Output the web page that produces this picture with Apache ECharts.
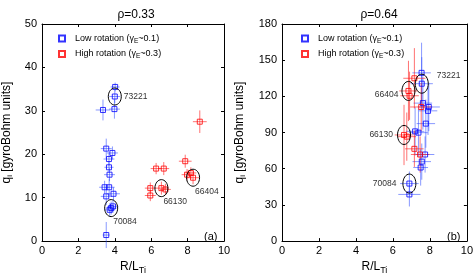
<!DOCTYPE html>
<html>
<head>
<meta charset="utf-8">
<script src="https://cdn.jsdelivr.net/npm/echarts@6/dist/echarts.min.js"></script>
<style>html,body{margin:0;padding:0;background:#fff}#c{width:476px;height:280px}</style>
</head>
<body>
<div id="c"></div>
<script>
// ---------- data ----------
var titles = ['ρ=0.33', 'ρ=0.64'];
var panelTags = ['(a)', '(b)'];
var xTicks = [0, 2, 4, 6, 8, 10];
var yTicksA = [0, 10, 20, 30, 40, 50];
var yTicksB = [0, 30, 60, 90, 120, 150, 180];
var seriesNames = ['Low rotation (γE~0.1)', 'High rotation (γE~0.3)'];

// panel (a) rho=0.33, low rotation: x, y, x-error, y-error
var lowA_x  = [4.02, 4.00, 3.35, 3.98, 3.53, 3.87, 3.68, 3.68, 3.71, 3.44, 3.69, 3.53, 3.93, 3.80, 3.90, 3.72, 3.53];
var lowA_y  = [35.5, 33.3, 30.2, 30.4, 21.3, 20.3, 18.9, 17.0, 15.3, 12.4, 12.4, 10.3, 10.9, 7.6, 8.0, 7.2, 1.4];
var lowA_dx = [0.25, 0.30, 0.40, 0.30, 0.30, 0.30, 0.30, 0.25, 0.30, 0.30, 0.30, 0.30, 0.35, 0.30, 0.30, 0.30, 0.20];
var lowA_dy = [1.0, 1.5, 2.4, 2.2, 2.3, 1.5, 1.5, 1.3, 1.5, 1.5, 2.0, 2.0, 1.5, 1.5, 1.5, 1.5, 3.0];

// panel (a) high rotation
var highA_x  = [8.67, 7.87, 6.27, 6.69, 5.95, 6.56, 6.78, 5.95, 7.97, 8.18, 8.30];
var highA_y  = [27.5, 18.4, 16.7, 16.7, 12.2, 12.2, 11.9, 10.5, 15.3, 15.7, 14.6];
var highA_dx = [0.38, 0.35, 0.30, 0.30, 0.30, 0.35, 0.30, 0.30, 0.30, 0.30, 0.35];
var highA_dy = [2.6, 1.5, 1.3, 1.5, 1.3, 1.5, 1.3, 1.3, 1.3, 1.3, 1.5];

// panel (b) rho=0.64, low rotation
var lowB_x  = [7.55, 7.56, 7.62, 7.94, 7.90, 7.78, 7.20, 7.38, 7.74, 7.56, 7.50, 6.89, 6.89];
var lowB_y  = [139.5, 130.5, 114.4, 111.2, 108.0, 97.4, 91.0, 89.9, 71.8, 65.9, 61.0, 47.7, 38.7];
var lowB_dx = [0.50, 0.60, 0.50, 0.60, 0.50, 0.50, 0.50, 0.50, 0.50, 0.50, 0.40, 0.50, 0.60];
var lowB_dy = [25, 22, 22, 20, 20, 20, 20, 20, 15, 15, 15, 10, 10];

// panel (b) high rotation
var highB_x  = [7.16, 6.84, 6.90, 7.53, 6.60, 6.75, 7.16, 7.47];
var highB_y  = [135.0, 124.5, 120.5, 111.2, 88.0, 86.6, 76.5, 71.8];
var highB_dx = [0.60, 0.50, 0.50, 0.60, 0.50, 0.50, 0.50, 0.50];
var highB_dy = [25, 25, 20, 20, 25, 20, 15, 15];

// circled shots: label, x, y
var shotsA_name = ['73221', '70084', '66130', '66404'];
var shotsA_x = [4.00, 3.80, 6.56, 8.30];
var shotsA_y = [33.3, 7.6, 12.2, 14.6];
var shotsB_name = ['73221', '66404', '66130', '70084'];
var shotsB_x = [7.56, 6.84, 6.60, 6.89];
var shotsB_y = [130.5, 124.5, 88.0, 47.7];

// ---------- helpers ----------
var BLUE = '#0000ff', RED = '#ff0000';
var BLUE_ERR = 'rgba(40,70,255,0.55)', RED_ERR = 'rgba(255,20,20,0.6)';

function zip4(a, b, c, d) { return a.map(function (v, i) { return [v, b[i], c[i], d[i]]; }); }
function zip2(a, b) { return a.map(function (v, i) { return [v, b[i]]; }); }

function errSeries(idx, data, color) {
  return {
    type: 'custom', xAxisIndex: idx * 2, yAxisIndex: idx * 2, data: data, silent: true, z: 2,
    renderItem: function (params, api) {
      var x = api.value(0), y = api.value(1), dx = api.value(2), dy = api.value(3);
      var l = api.coord([x - dx, y]), r = api.coord([x + dx, y]);
      var t = api.coord([x, y + dy]), b = api.coord([x, y - dy]);
      return { type: 'group', children: [
        { type: 'line', shape: { x1: l[0], y1: l[1], x2: r[0], y2: r[1] }, style: { stroke: color, lineWidth: 1 } },
        { type: 'line', shape: { x1: t[0], y1: t[1], x2: b[0], y2: b[1] }, style: { stroke: color, lineWidth: 1 } }
      ]};
    }
  };
}
function ptSeries(idx, name, data, color) {
  return {
    type: 'scatter', name: name, xAxisIndex: idx * 2, yAxisIndex: idx * 2, data: data, z: 3,
    symbol: 'rect', symbolSize: 5,
    itemStyle: { color: 'rgba(255,255,255,0)', borderColor: color, borderWidth: 1 }
  };
}
// label placement style per shot (offsets in px)
var offA = [[9, 0, 'left'], [2, 14, 'left'], [2, 14, 'left'], [2, 14, 'left']];
var offB = [[15, -8, 'left'], [-10, 4, 'right'], [-11, 0, 'right'], [-13, 0, 'right']];
function shotSeries(idx, names, xs, ys, offs, rx, ry) {
  var data = xs.map(function (v, i) { return [v, ys[i], i]; });
  return {
    type: 'custom', xAxisIndex: idx * 2, yAxisIndex: idx * 2, data: data, silent: true, z: 4,
    renderItem: function (params, api) {
      var i = api.value(2);
      var p = api.coord([api.value(0), api.value(1)]);
      var o = offs[i];
      return { type: 'group', children: [
        { type: 'ellipse', shape: { cx: p[0], cy: p[1], rx: rx, ry: ry }, style: { fill: null, stroke: '#000', lineWidth: 1 } },
        { type: 'text', x: p[0] + o[0], y: p[1] + o[1], style: { text: names[i], fill: '#333', font: '8.5px "Liberation Sans", Arial, sans-serif', align: o[2], verticalAlign: 'middle' } }
      ]};
    }
  };
}

var FONT = '"Liberation Sans", Arial, sans-serif';
var grids = [
  { left: 39, top: 24, width: 185, height: 225 },
  { left: 282, top: 24, width: 185, height: 225 }
];
var yT = [yTicksA, yTicksB];

var xAxes = [], yAxes = [];
[0, 1].forEach(function (g) {
  var common = { gridIndex: g, min: xTicks[0], max: xTicks[xTicks.length - 1], interval: xTicks[1] - xTicks[0],
    axisLine: { onZero: false, lineStyle: { color: '#000', width: 1 } },
    axisTick: { inside: true, length: 3, lineStyle: { color: '#000' } }, splitLine: { show: false } };
  xAxes.push(Object.assign({}, common, { position: 'bottom',
    axisLabel: { color: '#000', fontSize: 11, fontFamily: FONT, margin: 4 },
    name: '{n|R/L}{s|Ti}', nameLocation: 'middle', nameGap: 15,
    nameTextStyle: { color: '#000', fontFamily: FONT, rich: { n: { fontSize: 12, fontFamily: FONT, color: '#000' }, s: { fontSize: 9, fontFamily: FONT, color: '#000', padding: [7, 0, 0, 0] } } } }));
  xAxes.push(Object.assign({}, common, { position: 'top', axisLabel: { show: false } }));
  var yt = yT[g];
  var ycommon = { gridIndex: g, min: yt[0], max: yt[yt.length - 1], interval: yt[1] - yt[0],
    axisLine: { show: true, onZero: false, lineStyle: { color: '#000', width: 1 } },
    axisTick: { show: true, inside: true, length: 3, lineStyle: { color: '#000' } }, splitLine: { show: false } };
  yAxes.push(Object.assign({}, ycommon, { position: 'left',
    axisLabel: { color: '#000', fontSize: 11, fontFamily: FONT, margin: 5 },
    name: '{n|q}{s|i}{n| [gyroBohm units]}', nameLocation: 'middle', nameGap: g === 0 ? 28 : 35, nameRotate: 90,
    nameTextStyle: { color: '#000', fontFamily: FONT, rich: { n: { fontSize: 12, fontFamily: FONT, color: '#000' }, s: { fontSize: 8, fontFamily: FONT, color: '#000', padding: [6, 0, 0, 0] } } } }));
  yAxes.push(Object.assign({}, ycommon, { position: 'right', axisLabel: { show: false } }));
});

var legendRich = { n: { fontSize: 9, fontFamily: FONT, color: '#000' }, s: { fontSize: 6.5, fontFamily: FONT, color: '#000', padding: [5, 0, 0, 0] } };
function legendFmt(name) {
  var parts = name.split('γE');
  return '{n|' + parts[0] + 'γ}{s|E}{n|' + parts[1] + '}';
}
function legend(left) {
  return { left: left, top: 29, orient: 'vertical', itemWidth: 6, itemHeight: 6, itemGap: 5,
    data: seriesNames, formatter: legendFmt, textStyle: { rich: legendRich, padding: [0, 0, 0, 5] },
    selectedMode: false };
}

var option = {
  animation: false,
  backgroundColor: '#fff',
  title: [
    { text: titles[0], left: 131, top: 4, textAlign: 'center', textStyle: { fontSize: 12, fontWeight: 'normal', fontFamily: FONT, color: '#000' } },
    { text: titles[1], left: 374, top: 4, textAlign: 'center', textStyle: { fontSize: 12, fontWeight: 'normal', fontFamily: FONT, color: '#000' } }
  ],
  legend: [legend(53), legend(296)],
  grid: grids,
  xAxis: xAxes,
  yAxis: yAxes,
  graphic: [
    { type: 'text', left: 204, top: 231, style: { text: panelTags[0], font: '11px ' + FONT, fill: '#000' } },
    { type: 'text', left: 447, top: 231, style: { text: panelTags[1], font: '11px ' + FONT, fill: '#000' } }
  ],
  series: [
    errSeries(0, zip4(lowA_x, lowA_y, lowA_dx, lowA_dy), BLUE_ERR),
    errSeries(0, zip4(highA_x, highA_y, highA_dx, highA_dy), RED_ERR),
    ptSeries(0, seriesNames[0], zip2(lowA_x, lowA_y), BLUE),
    ptSeries(0, seriesNames[1], zip2(highA_x, highA_y), RED),
    shotSeries(0, shotsA_name, shotsA_x, shotsA_y, offA, 6.5, 8.5),
    errSeries(1, zip4(lowB_x, lowB_y, lowB_dx, lowB_dy), BLUE_ERR),
    errSeries(1, zip4(highB_x, highB_y, highB_dx, highB_dy), RED_ERR),
    ptSeries(1, seriesNames[0], zip2(lowB_x, lowB_y), BLUE),
    ptSeries(1, seriesNames[1], zip2(highB_x, highB_y), RED),
    shotSeries(1, shotsB_name, shotsB_x, shotsB_y, offB, 6.5, 9.5)
  ]
};
var chart = echarts.init(document.getElementById('c'), null, { renderer: 'canvas' });
chart.setOption(option);
</script>
</body>
</html>
